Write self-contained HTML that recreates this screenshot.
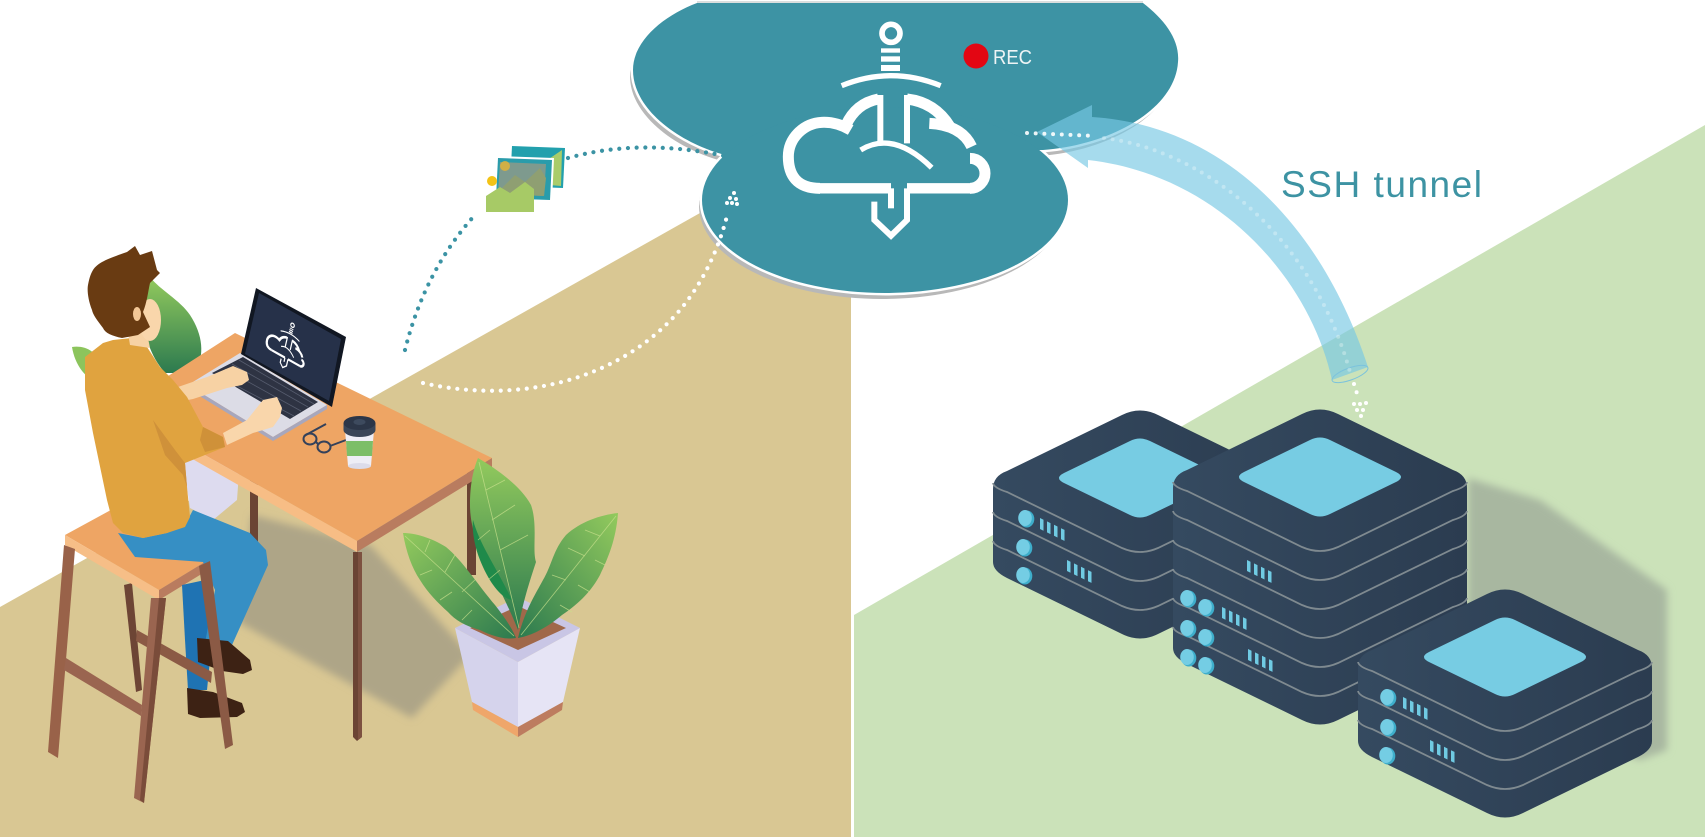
<!DOCTYPE html>
<html><head><meta charset="utf-8"><style>
html,body{margin:0;padding:0;background:#fff;}
svg{display:block;}
</style></head><body>
<svg width="1705" height="837" viewBox="0 0 1705 837" xmlns="http://www.w3.org/2000/svg">
<defs>
  <linearGradient id="leafg" x1="0" y1="0" x2="0" y2="1">
    <stop offset="0" stop-color="#93ca5d"/><stop offset="1" stop-color="#2c7a4f"/>
  </linearGradient>
  <linearGradient id="leafL" x1="0" y1="0" x2="1" y2="1">
    <stop offset="0" stop-color="#93ca5d"/><stop offset="1" stop-color="#2c7a4f"/>
  </linearGradient>
  <linearGradient id="leafR" x1="1" y1="0" x2="0" y2="1">
    <stop offset="0" stop-color="#93ca5d"/><stop offset="1" stop-color="#2c7a4f"/>
  </linearGradient>
  <linearGradient id="srv" x1="0" y1="0" x2="1" y2="0">
    <stop offset="0" stop-color="#354a60"/><stop offset="1" stop-color="#2b3c50"/>
  </linearGradient>
  <filter id="bl" x="-20%" y="-20%" width="140%" height="140%"><feGaussianBlur stdDeviation="4"/></filter>
  <g id="icon" fill="none" stroke="#fff">
    <circle cx="363" cy="55" r="27" stroke-width="17"/>
    <rect x="333" y="100" width="57" height="13" fill="#fff" stroke="none"/>
    <rect x="333" y="124" width="57" height="16" fill="#fff" stroke="none"/>
    <rect x="333" y="150" width="57" height="18" fill="#fff" stroke="none"/>
    <path d="M215,212 Q363,152 512,212" stroke-width="16"/>
    <path d="M331,240 L331,385 M411,240 L411,385" stroke-width="18"/>
    <path d="M228,330 Q258,265 325,252" stroke-width="33"/>
    <path d="M411,252 Q495,262 540,335" stroke-width="33"/>
    <path d="M478,325 Q575,330 605,395" stroke-width="33"/>
    <path d="M600,430 A45,45 0 0 1 600,520" stroke-width="33"/>
    <path d="M150,520 C80,520 55,480 55,425 C55,370 100,325 155,322 C195,320 225,335 242,345" stroke-width="33"/>
    <path d="M150,520 L363,520 M411,520 L600,520" stroke-width="31"/>
    <path d="M363,520 L363,580" stroke-width="18"/>
    <path d="M313,560 L313,615 L363,662 L411,615 L411,520" stroke-width="18"/>
    <path d="M272,405 Q370,345 485,458" stroke-width="16"/>
  </g>
  <g id="bars" fill="#70cbe3">
    <polygon points="0,0 3.5,1.7 3.5,12.7 0,11"/>
    <polygon points="7,3.4 10.5,5.1 10.5,16.1 7,14.4"/>
    <polygon points="14,6.8 17.5,8.5 17.5,19.5 14,17.8"/>
    <polygon points="21,10.2 24.5,11.9 24.5,22.9 21,21.2"/>
  </g>
  <g id="btn">
    <ellipse cx="1.8" cy="1" rx="7.5" ry="8.5" fill="#3eaecb"/>
    <ellipse cx="0" cy="0" rx="6.8" ry="8" fill="#74cde4"/>
  </g>
</defs>

<!-- backgrounds -->
<rect width="1705" height="837" fill="#fff"/>
<polygon points="0,607 851,128 851,837 0,837" fill="#d9c793"/>
<polygon points="854,615 1705,125 1705,837 854,837" fill="#cbe2b9"/>

<!-- desk shadow -->
<polygon points="252,515 370,545 470,655 412,718 238,622" fill="#aea587" filter="url(#bl)"/>

<!-- plant behind person -->
<path d="M150,277 C160,290 180,300 190,315 C203,335 205,355 195,373 L165,373 C150,355 143,335 145,310 C146,295 148,285 150,277 Z" fill="url(#leafg)"/>
<path d="M72,347 C85,345 97,352 98,362 L97,382 C85,378 75,365 72,347 Z" fill="#8cc45c"/>
<polygon points="183,462 215,447 240,458 237,500 213,520 190,508" fill="#dddbef"/>

<!-- desk back legs -->
<polygon points="250,470 258,470 258,562 250,560" fill="#6b4434"/>
<polygon points="467,462 476,462 476,575 467,575" fill="#6b4434"/>

<!-- desk top -->
<polygon points="120,407 235,333 492,458 357,541" fill="#eea564"/>
<polygon points="120,407 357,541 357,552 120,418" fill="#f7bd85"/>
<polygon points="357,541 492,458 492,469 357,552" fill="#b97c5f"/>
<polygon points="353,552 362,552 362,737 357,741 353,737" fill="#6b4434"/>
<polygon points="358,552 362,552 362,737 358,740" fill="#7d5140"/>

<!-- laptop -->
<polygon points="188,385 240,353 327,405 273,437" fill="#dcdce6"/>
<polygon points="188,385 273,437 327,405 327,409 273,441 188,389" fill="#a7a7bd"/>
<polygon points="212,373 243,357 318,402 290,419" fill="#2e3343"/>
<g stroke="#565c6e" stroke-width="0.8">
  <line x1="218" y1="376" x2="294" y2="416"/>
  <line x1="225" y1="369" x2="301" y2="411"/>
  <line x1="232" y1="364" x2="308" y2="407"/>
  <line x1="239" y1="360" x2="314" y2="404"/>
</g>
<polygon points="256,288 346,337 332,407 241,354" fill="#111722"/>
<polygon points="259,293 341,339 329,401 245,354" fill="#263149"/>
<use href="#icon" transform="matrix(0.0632,0.0356,-0.0163,0.0696,270.5,308.5)"/>

<!-- glasses -->
<g fill="none" stroke="#34415a" stroke-width="2">
  <ellipse cx="310" cy="439" rx="6.5" ry="5.5"/>
  <ellipse cx="324" cy="447" rx="6.5" ry="5.5"/>
  <path d="M316,442 L318,444 M330,446 L346,440 M304,436 L326,424"/>
</g>

<!-- coffee cup -->
<polygon points="345,430 374,430 371,466 348,466" fill="#eeeef6"/>
<ellipse cx="359.5" cy="466" rx="11.5" ry="3" fill="#dcdcea"/>
<polygon points="346,441 373,441 372,456 347,456" fill="#7cbe68"/>
<ellipse cx="359.5" cy="430" rx="16" ry="7" fill="#3a4658"/>
<rect x="343.5" y="423" width="32" height="7" fill="#3a4658"/>
<ellipse cx="359.5" cy="423" rx="16" ry="7" fill="#2c3648"/>
<ellipse cx="359.5" cy="422" rx="6" ry="3" fill="#3d4a5e"/>

<!-- stool back leg and seat -->
<polygon points="124,585 132,583 142,690 136,692" fill="#6d4535"/>
<polygon points="65,535 120,505 213,557 159,590" fill="#eea564"/>
<polygon points="65,535 159,590 159,600 65,545" fill="#f6be87"/>
<polygon points="159,590 213,557 213,567 159,600" fill="#b97c5f"/>

<!-- person -->
<polygon points="178,387 207,377 233,366 247,372 249,380 242,385 227,388 193,399 183,401" fill="#f7d2a4"/>
<polygon points="182,585 205,580 212,640 207,690 188,690 185,640" fill="#1f73b3"/>
<polygon points="118,533 143,538 167,533 185,525 193,510 250,533 266,550 268,565 232,645 205,643 215,590 203,562 135,557" fill="#368fc4"/>
<polygon points="197,638 228,641 250,660 252,670 243,674 222,671 198,662" fill="#3d2214"/>
<polygon points="187,688 213,692 242,703 245,712 237,717 200,718 188,714" fill="#3d2214"/>
<polygon points="85,357 103,343 113,340 140,337 147,347 160,367 173,380 187,397 203,427 223,437 225,447 200,457 185,463 187,487 190,517 185,527 167,533 143,538 123,533 113,523 107,500 93,433 85,390" fill="#e0a33f"/>
<polygon points="153,420 175,450 185,463 187,487 183,475 165,455" fill="#cf913a"/>
<polygon points="203,427 223,437 225,447 205,452 200,440" fill="#cf9139"/>
<polygon points="128,333 147,333 150,348 130,345" fill="#f7d2a4"/>
<ellipse cx="150" cy="320" rx="11" ry="21" fill="#f9d6ab"/>
<path d="M93,270 C98,262 110,258 127,252 L135,246 L140,255 L152,251 L157,270 L160,273 L150,283 C148,292 147,302 143,312 L150,327 L138,335 L122,338 C112,336 105,333 103,328 C97,320 93,315 92,310 C88,300 87,290 88,285 C89,280 90,275 93,270 Z" fill="#693b12"/>
<ellipse cx="137" cy="314" rx="4" ry="7" fill="#f3c796"/>
<polygon points="223,433 247,420 263,400 277,397 282,408 280,417 273,427 253,433 227,445" fill="#f9d6ab"/>

<!-- stool front legs -->
<polygon points="64,545 75,549 58,758 48,752" fill="#996249"/>
<polygon points="199,566 210,561 233,745 225,749" fill="#8b5a45"/>
<polygon points="66,658 142,705 141,716 64,670" fill="#9a6550"/>
<polygon points="137,630 212,672 211,683 136,641" fill="#8b5a45"/>
<polygon points="151,598 166,598 144,803 134,798" fill="#9a6550"/>
<polygon points="159,598 166,598 144,803 140,800" fill="#7a4c3a"/>

<!-- front plant -->
<polygon points="455,628 518,597 580,628 518,662" fill="#c9c6e5"/>
<polygon points="470,628 518,606 566,628 518,650" fill="#a0684a"/>
<path d="M478,458 C495,468 520,485 531,505 C538,525 532,550 536,562 C530,580 522,605 518,630 C510,610 500,590 490,570 C480,550 470,530 470,505 C470,485 473,470 478,458 Z" fill="url(#leafg)"/>
<path d="M473,520 C480,545 495,565 512,600 C500,598 488,580 480,560 C474,545 472,530 473,520 Z" fill="#1f8a4a"/>
<path d="M403,533 C415,533 432,538 446,547 C462,560 478,585 495,605 C505,618 512,628 516,638 C505,640 492,636 480,630 C465,626 455,620 448,612 C438,603 428,593 420,580 C412,568 406,552 403,533 Z" fill="url(#leafL)"/>
<path d="M618,513 C600,515 580,522 566,535 C553,550 552,565 543,580 C535,595 525,610 518,638 C535,635 550,625 562,615 C580,603 592,590 600,575 C608,558 616,540 618,513 Z" fill="url(#leafR)"/>
<g stroke="#c8e08c" stroke-width="0.8" fill="none" opacity="0.75">
  <path d="M405,536 L514,636 M425,552 L430,540 M445,572 L455,555 M462,592 L477,578 M432,570 L420,575 M452,592 L440,600 M472,610 L462,620"/>
  <path d="M616,516 L521,635 M600,536 L585,530 M585,556 L568,548 M566,580 L552,575 M595,560 L605,565 M578,585 L590,592 M560,605 L572,612"/>
  <path d="M479,462 L519,628 M486,490 L505,480 M492,520 L515,505 M500,550 L528,535 M490,530 L478,540 M500,570 L488,580"/>
</g>
<polygon points="455,628 518,662 518,727 472,702" fill="#d5d3ec"/>
<polygon points="518,662 580,628 563,702 518,727" fill="#e6e4f5"/>
<polygon points="472,702 518,727 518,737 473,710" fill="#efa66a"/>
<polygon points="518,727 563,702 562,710 518,737" fill="#bd7c5f"/>

<!-- cloud -->
<g transform="translate(-3,6)" fill="#b8b8b8">
  <path d="M725,155 C680,143 633,110 633,70 C633,40 665,15 697,3 L1143,3 C1165,20 1180,40 1178,62 C1175,110 1110,145 1043,150 Z"/>
  <ellipse cx="885" cy="200" rx="183" ry="93"/>
</g>
<g fill="#fff" stroke="#fff" stroke-width="5">
  <path d="M725,155 C680,143 633,110 633,70 C633,40 665,15 697,3 L1143,3 C1165,20 1180,40 1178,62 C1175,110 1110,145 1043,150 Z"/>
  <ellipse cx="885" cy="200" rx="183" ry="93"/>
</g>
<g fill="#3d93a4">
  <path d="M725,155 C680,143 633,110 633,70 C633,40 665,15 697,3 L1143,3 C1165,20 1180,40 1178,62 C1175,110 1110,145 1043,150 Z"/>
  <ellipse cx="885" cy="200" rx="183" ry="93"/>
</g>
<line x1="697" y1="2" x2="1143" y2="2" stroke="#cfd3d4" stroke-width="1.5"/>
<use href="#icon" transform="translate(770,15) scale(0.33333)"/>
<circle cx="976" cy="56" r="12.5" fill="#e30613"/>
<text x="993" y="64" font-family="Liberation Sans, sans-serif" font-size="20" fill="#eef4f5" textLength="39" lengthAdjust="spacingAndGlyphs">REC</text>

<!-- image icon -->
<polygon points="510,144 567,146 565,190 508,188" fill="#fff"/>
<polygon points="512,146 565,148 563,188 510,186" fill="#22a0ad"/>
<polygon points="540,165 562,150 561,186 538,184" fill="#a9cc6a"/>
<polygon points="496,156 554,158 552,202 494,200" fill="#fff"/>
<polygon points="498,158 552,160 550,200 496,198" fill="#2a9cab"/>
<polygon points="500,162 546,164 544,196 498,194" fill="#7e9a8e"/>
<polygon points="500,190 515,175 525,182 540,168 546,178 544,196 498,194" fill="#8f9f72"/>
<polygon points="486,212 486,196 500,187 510,193 525,182 534,189 534,212" fill="#a7ca66"/>
<circle cx="505" cy="166" r="5" fill="#e1b33a" opacity="0.85"/>
<circle cx="492" cy="181" r="5" fill="#f3c316"/>

<!-- dotted connectors -->
<g fill="none" stroke-linecap="round" stroke-width="4.2" stroke-dasharray="0 8.7">
  <path d="M405,350 Q425,270 475,215" stroke="#3b93a4"/>
  <path d="M568,158 Q640,138 725,156" stroke="#3b93a4"/>
  <path d="M423,383 C520,405 620,380 680,310 C705,280 720,245 728,212" stroke="#fff"/>
</g>
<g fill="#fff">
  <circle cx="734" cy="193" r="2"/>
  <circle cx="730" cy="198" r="2"/><circle cx="736" cy="199" r="2"/>
  <circle cx="727" cy="203" r="2"/><circle cx="732" cy="203" r="2"/><circle cx="737" cy="204" r="2"/>
</g>

<!-- servers shadow -->
<polygon points="1468,478 1540,500 1667,590 1667,750 1640,760 1468,700" fill="#a8b7a0" filter="url(#bl)"/>

<!-- server A -->
<g transform="translate(1140,478)">
  <path d="M-147,11 Q-147,-2 -133,-7 L-18,-63 Q0,-72 18,-63 L133,-7 Q147,-2 147,11 L147,84 Q147,93 133,100 L18,156 Q0,165 -18,156 L-133,100 Q-147,93 -147,84 Z" fill="url(#srv)"/>
  <path d="M-76,-5 L-10,-37 Q0,-42 10,-37 L76,-5 Q86,0 76,5 L10,37 Q0,42 -10,37 L-76,5 Q-86,0 -76,-5 Z" fill="#77cce3"/>
  <g fill="none" stroke="#7f8a90" stroke-width="1.8">
    <path d="M-147,5 Q-146,10 -133,14 L-18,70 Q0,78 18,70 L133,14 Q146,10 147,5"/>
    <path d="M-147,34 Q-146,39 -133,43 L-18,99 Q0,107 18,99 L133,43 Q146,39 147,34"/>
    <path d="M-147,63 Q-146,68 -133,72 L-18,128 Q0,136 18,128 L133,72 Q146,68 147,63"/>
  </g>
</g>
<use href="#btn" x="1025" y="518"/><use href="#btn" x="1023" y="547"/><use href="#btn" x="1023" y="575"/>
<use href="#bars" x="1040" y="518"/><use href="#bars" x="1067" y="560"/>

<!-- server B -->
<g transform="translate(1320,477)">
  <path d="M-147,11 Q-147,-2 -133,-7 L-18,-63 Q0,-72 18,-63 L133,-7 Q147,-2 147,11 L147,171 Q147,180 133,187 L18,243 Q0,252 -18,243 L-133,187 Q-147,180 -147,171 Z" fill="url(#srv)"/>
  <path d="M-76,-5 L-10,-37 Q0,-42 10,-37 L76,-5 Q86,0 76,5 L10,37 Q0,42 -10,37 L-76,5 Q-86,0 -76,-5 Z" fill="#77cce3"/>
  <g fill="none" stroke="#7f8a90" stroke-width="1.8">
    <path d="M-147,5 Q-146,10 -133,14 L-18,70 Q0,78 18,70 L133,14 Q146,10 147,5"/>
    <path d="M-147,34 Q-146,39 -133,43 L-18,99 Q0,107 18,99 L133,43 Q146,39 147,34"/>
    <path d="M-147,63 Q-146,68 -133,72 L-18,128 Q0,136 18,128 L133,72 Q146,68 147,63"/>
    <path d="M-147,92 Q-146,97 -133,101 L-18,157 Q0,165 18,157 L133,101 Q146,97 147,92"/>
    <path d="M-147,121 Q-146,126 -133,130 L-18,186 Q0,194 18,186 L133,130 Q146,126 147,121"/>
    <path d="M-147,150 Q-146,155 -133,159 L-18,215 Q0,223 18,215 L133,159 Q146,155 147,150"/>
  </g>
</g>
<use href="#btn" x="1187" y="598"/><use href="#btn" x="1205" y="607"/>
<use href="#btn" x="1187" y="628"/><use href="#btn" x="1205" y="637"/>
<use href="#btn" x="1187" y="657"/><use href="#btn" x="1205" y="665"/>
<use href="#bars" x="1247" y="560"/><use href="#bars" x="1222" y="607"/><use href="#bars" x="1248" y="649"/>

<!-- server C -->
<g transform="translate(1505,657)">
  <path d="M-147,11 Q-147,-2 -133,-7 L-18,-63 Q0,-72 18,-63 L133,-7 Q147,-2 147,11 L147,84 Q147,93 133,100 L18,156 Q0,165 -18,156 L-133,100 Q-147,93 -147,84 Z" fill="url(#srv)"/>
  <path d="M-76,-5 L-10,-37 Q0,-42 10,-37 L76,-5 Q86,0 76,5 L10,37 Q0,42 -10,37 L-76,5 Q-86,0 -76,-5 Z" fill="#77cce3"/>
  <g fill="none" stroke="#7f8a90" stroke-width="1.8">
    <path d="M-147,5 Q-146,10 -133,14 L-18,70 Q0,78 18,70 L133,14 Q146,10 147,5"/>
    <path d="M-147,34 Q-146,39 -133,43 L-18,99 Q0,107 18,99 L133,43 Q146,39 147,34"/>
    <path d="M-147,63 Q-146,68 -133,72 L-18,128 Q0,136 18,128 L133,72 Q146,68 147,63"/>
  </g>
</g>
<use href="#btn" x="1387" y="697"/><use href="#btn" x="1387" y="727"/><use href="#btn" x="1386" y="755"/>
<use href="#bars" x="1403" y="697"/><use href="#bars" x="1430" y="740"/>

<!-- SSH tunnel band -->
<path d="M1037,132 L1092,105 L1092,117 C1220,125 1320,220 1368,367 L1332,380 C1310,280 1220,175 1088,160 L1088,168 Z" fill="rgb(120,201,227)" fill-opacity="0.66"/>
<ellipse cx="1350" cy="374" rx="19" ry="6" transform="rotate(-20 1350 374)" fill="none" stroke="#7cc3dc" stroke-width="1"/>
<g fill="none" stroke-linecap="round" stroke-width="4" stroke-dasharray="0 8.7">
  <path d="M1027,133 L1095,136" stroke="#fff" stroke-opacity="0.9"/>
  <path d="M1104,138 C1200,150 1310,230 1350,372" stroke="#fff" stroke-opacity="0.3"/>
  <path d="M1354,384 L1359,400" stroke="#fff"/>
</g>
<g fill="#fff">
  <circle cx="1354" cy="404" r="2"/><circle cx="1360" cy="404" r="2"/><circle cx="1366" cy="403" r="2"/>
  <circle cx="1357" cy="410" r="2"/><circle cx="1363" cy="410" r="2"/>
  <circle cx="1361" cy="416" r="2"/>
</g>

<text x="1281" y="197" font-family="Liberation Sans, sans-serif" font-size="37" fill="#3d93a3" textLength="201" lengthAdjust="spacing">SSH tunnel</text>
</svg>
</body></html>
